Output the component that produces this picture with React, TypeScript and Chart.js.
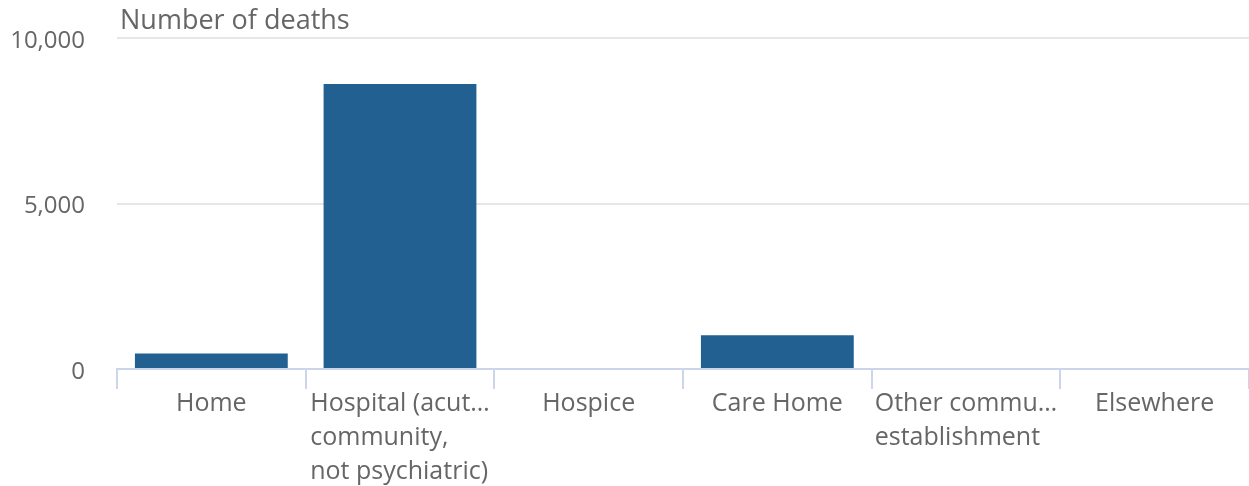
import React, { useEffect, useRef } from "react";
import { Chart, registerables } from "chart.js";

Chart.register(...registerables);

const categoryLines: string[][] = [
  ["Home"],
  ["Hospital (acut…", "community,", "not psychiatric)"],
  ["Hospice"],
  ["Care Home"],
  ["Other commu…", "establishment"],
  ["Elsewhere"],
];
const deaths: number[] = [470, 8610, 0, 1020, 0, 0];
const yTickValues: number[] = [0, 5000, 10000];
const axisTitle = "Number of deaths";

const FONT = '"Open Sans", sans-serif';
const TEXT = "#666666";

const customText = {
  id: "customText",
  afterDraw(chart: any) {
    const { ctx, chartArea } = chart;
    const xs = chart.scales.x;
    ctx.save();
    ctx.fillStyle = TEXT;
    ctx.textBaseline = "middle";
    ctx.textAlign = "left";
    ctx.font = `27px ${FONT}`;
    ctx.fillText(axisTitle, chartArea.left + 3, 21);
    ctx.font = `25px ${FONT}`;
    categoryLines.forEach((lines, i) => {
      const cx = xs.getPixelForValue(i);
      const maxW = Math.max(...lines.map((l) => ctx.measureText(l).width));
      const left = cx - maxW / 2;
      lines.forEach((l, k) => {
        ctx.fillText(l, left, chartArea.bottom + 35 + k * 34);
      });
    });
    ctx.restore();
  },
};

export default function App() {
  const ref = useRef<HTMLCanvasElement>(null);
  useEffect(() => {
    document.body.style.margin = "0";
    const chart = new Chart(ref.current!, {
      type: "bar",
      data: {
        labels: categoryLines.map((l) => l.join(" ")),
        datasets: [
          {
            data: deaths,
            backgroundColor: "#226091",
            borderWidth: 0,
            barPercentage: 0.81,
            categoryPercentage: 1,
          },
        ],
      },
      options: {
        responsive: false,
        animation: false,
        events: [],
        layout: { padding: { top: 38, left: 0, right: 0, bottom: 0 } },
        plugins: { legend: { display: false }, tooltip: { enabled: false }, title: { display: false } },
        scales: {
          x: {
            offset: true,
            grid: {
              display: true,
              offset: true,
              drawOnChartArea: false,
              drawTicks: true,
              tickLength: 20,
              color: "#ccd6eb",
              lineWidth: 2,
            },
            border: { display: true, color: "#ccd6eb", width: 2 },
            ticks: { display: false },
            afterFit: (s: any) => {
              s.height = 117;
              s.paddingLeft = 0;
              s.paddingRight = 0;
            },
          },
          y: {
            min: 0,
            max: 10000,
            afterBuildTicks: (s: any) => {
              s.ticks = yTickValues.map((v) => ({ value: v }));
            },
            grid: { color: "#e6e6e6", drawTicks: false, lineWidth: 2 },
            border: { display: false },
            ticks: {
              padding: 32,
              labelOffset: 3,
              color: TEXT,
              font: { family: FONT, size: 24 },
              callback: (v: any) => Number(v).toLocaleString("en-US"),
            },
            afterFit: (s: any) => {
              s.width = 117;
              s.paddingTop = 0;
              s.paddingBottom = 0;
            },
          },
        },
      },
      plugins: [customText],
    });
    return () => chart.destroy();
  }, []);
  return <canvas ref={ref} width={1249} height={486} style={{ display: "block" }} />;
}
